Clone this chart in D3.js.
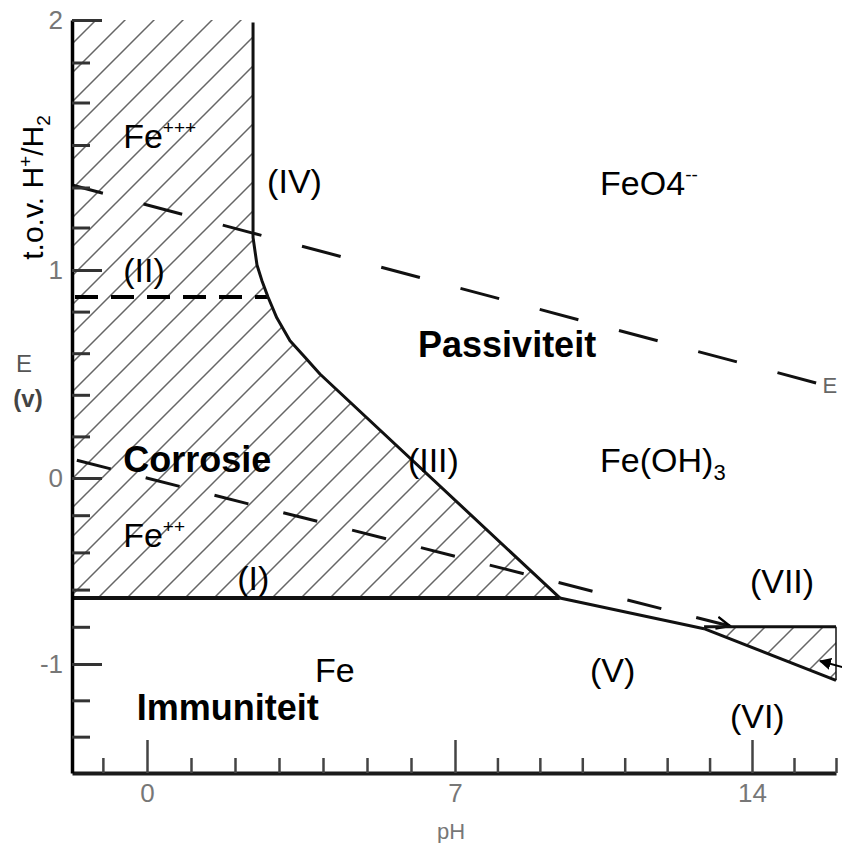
<!DOCTYPE html>
<html>
<head>
<meta charset="utf-8">
<script src="https://cdn.jsdelivr.net/npm/d3@7"></script>
<style>
  body { margin: 0; background: #fff; }
  svg { display: block; }
  text { font-family: "Liberation Sans", Arial, sans-serif; }
</style>
</head>
<body>
<svg id="chart" width="842" height="843"></svg>
<script>
// Pourbaix diagram of iron (E vs pH). The scan is a bit stretched,
// so both scales are piecewise linear between the labelled ticks.
const PH_BREAKS = [-1.7, 0, 7, 14, 16];
const E_BREAKS = [-1.6, -1, 0, 1, 2];

const phMajor = [0, 7, 14];
const phMinor = [-1, 1, 2, 3, 4, 5, 6, 8, 9, 10, 11, 12, 13, 15, 16];
const eMajor = [-1, 0, 1, 2];
const eMinor = [-1.4, -1.2, -0.8, -0.6, -0.4, -0.2, 0.2, 0.4, 0.6, 0.8,
                1.17, 1.33, 1.5, 1.67, 1.83];

// boundary of the corrosion field: line IV (vertical) bending into line III
const corrosionEdge = [
  [2.41, 1.99], [2.41, 1.13], [2.5, 1.02], [2.61, 0.95], [2.75, 0.87],
  [2.95, 0.77], [3.25, 0.66], [3.59, 0.58], [3.93, 0.50], [9.47, -0.645]
];
const lineI = [[-1.7, -0.645], [9.47, -0.645]];
const lineII = [[-1.7, 0.87], [2.75, 0.87]];
const lineV = [[9.47, -0.645], [12.87, -0.81]];
const lineVI = [[12.87, -0.81], [16, -1.09]];
const lineVII = [[12.87, -0.80], [16, -0.80]];
const edgeRight = [[16, -0.80], [16, -1.09]];
// water stability lines (dashed)
const lineO2 = [[-1.7, 1.34], [15.62, 0.452]];
const lineH2 = [[-1.7, 0.091], [13.48, -0.796]];
const arrowVI = [[16.2, -1.02], [15.62, -0.984]];

// text in the fields: [pH, E, text, sup, sub, bold]
const fieldLabels = [
  [-0.54, 1.49, "Fe", "+++", "", false],
  [2.73, 1.31, "(IV)", "", "", false],
  [10.42, 1.30, "FeO4", "--", "", false],
  [-0.54, 0.94, "(II)", "", "", false],
  [6.16, 0.58, "Passiviteit", "", "", true],
  [-0.54, 0.03, "Corrosie", "", "", true],
  [5.93, 0.03, "(III)", "", "", false],
  [10.42, 0.03, "Fe(OH)", "", "3", false],
  [-0.54, -0.37, "Fe", "++", "", false],
  [2.05, -0.60, "(I)", "", "", false],
  [13.95, -0.62, "(VII)", "", "", false],
  [3.82, -1.10, "Fe", "", "", false],
  [10.18, -1.10, "(V)", "", "", false],
  [-0.23, -1.31, "Immuniteit", "", "", true],
  [13.48, -1.35, "(VI)", "", "", false]
];

const svg = d3.select("#chart");

const x = d3.scaleLinear().domain(PH_BREAKS).range([72, 147, 455, 752, 836]);
const y = d3.scaleLinear().domain(E_BREAKS).range([773, 664, 478, 270, 20]);

const line = d3.line().x(d => x(d[0])).y(d => y(d[1]));
const closed = d3.line().x(d => x(d[0])).y(d => y(d[1])).curve(d3.curveLinearClosed);

// hatch pattern
const defs = svg.append("defs");
const pat = defs.append("pattern")
    .attr("id", "hatch")
    .attr("patternUnits", "userSpaceOnUse")
    .attr("width", 29)
    .attr("height", 29);
pat.append("path")
    .attr("d", "M-2,31 L31,-2 M-2,2 L2,-2 M27,31 L31,27")
    .attr("stroke", "#666")
    .attr("stroke-width", 1.5);

defs.append("marker")
    .attr("id", "openhead")
    .attr("viewBox", "0 0 10 10")
    .attr("refX", 9).attr("refY", 5)
    .attr("markerWidth", 5).attr("markerHeight", 5)
    .attr("markerUnits", "strokeWidth")
    .attr("orient", "auto")
    .append("path")
    .attr("d", "M0,1 L9,5 L0,9")
    .attr("fill", "none")
    .attr("stroke", "#000")
    .attr("stroke-width", 1.6);

defs.append("marker")
    .attr("id", "solidhead")
    .attr("viewBox", "0 0 10 10")
    .attr("refX", 9).attr("refY", 5)
    .attr("markerWidth", 6).attr("markerHeight", 6)
    .attr("markerUnits", "strokeWidth")
    .attr("orient", "auto")
    .append("path")
    .attr("d", "M0,0 L10,5 L0,10 Z")
    .attr("fill", "#000");

// hatched fields
const corrosionField = [[-1.7, 2], [2.41, 2]]
    .concat(corrosionEdge.slice(1))
    .concat([[-1.7, -0.645]]);
svg.append("path")
    .datum(corrosionField)
    .attr("fill", "url(#hatch)")
    .attr("d", closed);

const smallField = [lineVII[0], lineVII[1], lineVI[1], lineVI[0]];
svg.append("path")
    .datum(smallField)
    .attr("fill", "url(#hatch)")
    .attr("d", closed);

// dashed water lines
svg.append("path")
    .datum(lineO2)
    .attr("fill", "none")
    .attr("stroke", "#111")
    .attr("stroke-width", 3)
    .attr("stroke-dasharray", "40,42")
    .attr("stroke-dashoffset", 8)
    .attr("d", line);

svg.append("path")
    .datum(lineH2)
    .attr("fill", "none")
    .attr("stroke", "#111")
    .attr("stroke-width", 3)
    .attr("stroke-dasharray", "35,36")
    .attr("stroke-dashoffset", -5)
    .attr("marker-end", "url(#openhead)")
    .attr("d", line);

svg.append("path")
    .datum(lineII)
    .attr("fill", "none")
    .attr("stroke", "#000")
    .attr("stroke-width", 4)
    .attr("stroke-dasharray", "23,13")
    .attr("stroke-dashoffset", -3)
    .attr("d", line);

// solid boundaries
const solid = [
  [corrosionEdge, 3],
  [lineI, 4],
  [lineV, 3],
  [lineVI, 3],
  [lineVII, 3],
  [edgeRight, 1.5]
];
solid.forEach(([pts, w]) => {
  svg.append("path")
      .datum(pts)
      .attr("fill", "none")
      .attr("stroke", "#111")
      .attr("stroke-width", w)
      .attr("stroke-linejoin", "round")
      .attr("d", line);
});

svg.append("path")
    .datum(arrowVI)
    .attr("fill", "none")
    .attr("stroke", "#000")
    .attr("stroke-width", 2)
    .attr("marker-end", "url(#solidhead)")
    .attr("d", line);

// axes
const tickFont = "'Liberation Sans Narrow', 'DejaVu Sans Condensed', sans-serif";

const gxMinor = svg.append("g")
    .attr("transform", `translate(0,${y(-1.6)})`)
    .call(d3.axisBottom(x).tickValues(phMinor).tickSize(-15).tickSizeOuter(0).tickFormat(""));
gxMinor.select(".domain").attr("stroke", "#1a1a1a").attr("stroke-width", 4);
gxMinor.selectAll(".tick line").attr("stroke", "#444").attr("stroke-width", 2.5);

const gxMajor = svg.append("g")
    .attr("transform", `translate(0,${y(-1.6)})`)
    .call(d3.axisBottom(x).tickValues(phMajor).tickSize(-33).tickPadding(11).tickFormat(d => String(d)));
gxMajor.select(".domain").remove();
gxMajor.selectAll(".tick line").attr("stroke", "#444").attr("stroke-width", 2.5);
gxMajor.selectAll(".tick text")
    .attr("font-family", tickFont)
    .attr("font-size", 26)
    .attr("fill", "#777");

const gyMinor = svg.append("g")
    .attr("transform", `translate(${x(-1.7)},0)`)
    .call(d3.axisLeft(y).tickValues(eMinor).tickSize(-18).tickSizeOuter(0).tickFormat(""));
gyMinor.select(".domain").attr("stroke", "#000").attr("stroke-width", 3.5);
gyMinor.selectAll(".tick line").attr("stroke", "#333").attr("stroke-width", 3);

const gyMajor = svg.append("g")
    .attr("transform", `translate(${x(-1.7)},0)`)
    .call(d3.axisLeft(y).tickValues(eMajor).tickSize(-30).tickPadding(9).tickFormat(d => String(d)));
gyMajor.select(".domain").remove();
gyMajor.selectAll(".tick line").attr("stroke", "#333").attr("stroke-width", 3);
gyMajor.selectAll(".tick text")
    .attr("font-family", tickFont)
    .attr("font-size", 26)
    .attr("fill", "#777");

// axis titles
svg.append("text")
    .attr("x", x(7) - 4)
    .attr("y", y(-1.6) + 66)
    .attr("text-anchor", "middle")
    .attr("font-size", 22)
    .attr("fill", "#777")
    .text("pH");

const yTitle = svg.append("text")
    .attr("transform", `translate(43,${y(1.33)}) rotate(-90)`)
    .attr("text-anchor", "middle")
    .attr("font-size", 30)
    .attr("fill", "#000");
yTitle.append("tspan").text("t.o.v. H");
yTitle.append("tspan").attr("dy", -11).attr("font-size", 19).text("+");
yTitle.append("tspan").attr("dy", 11).text("/H");
yTitle.append("tspan").attr("dy", 7).attr("font-size", 19).text("2");

svg.append("text")
    .attr("x", 24).attr("y", y(0.51))
    .attr("text-anchor", "middle")
    .attr("font-size", 24)
    .attr("fill", "#555")
    .text("E");
svg.append("text")
    .attr("x", 28).attr("y", y(0.34))
    .attr("text-anchor", "middle")
    .attr("font-size", 24)
    .attr("font-weight", "bold")
    .attr("fill", "#444")
    .text("(v)");

// letter at the end of the upper dashed line
svg.append("text")
    .attr("x", x(15.68)).attr("y", y(0.41))
    .attr("font-size", 22)
    .attr("fill", "#666")
    .text("E");

// field labels
fieldLabels.forEach(([ph, e, t, sup, sub, bold]) => {
  const size = bold ? 36 : 34;
  const txt = svg.append("text")
      .attr("x", x(ph))
      .attr("y", y(e))
      .attr("font-size", size)
      .attr("font-weight", bold ? "bold" : "normal")
      .attr("fill", "#000");
  txt.append("tspan").text(t);
  if (sup) {
    txt.append("tspan").attr("dy", -14).attr("font-size", 19).text(sup);
  }
  if (sub) {
    txt.append("tspan").attr("dy", 8).attr("font-size", 22).text(sub);
  }
});
</script>
</body>
</html>
